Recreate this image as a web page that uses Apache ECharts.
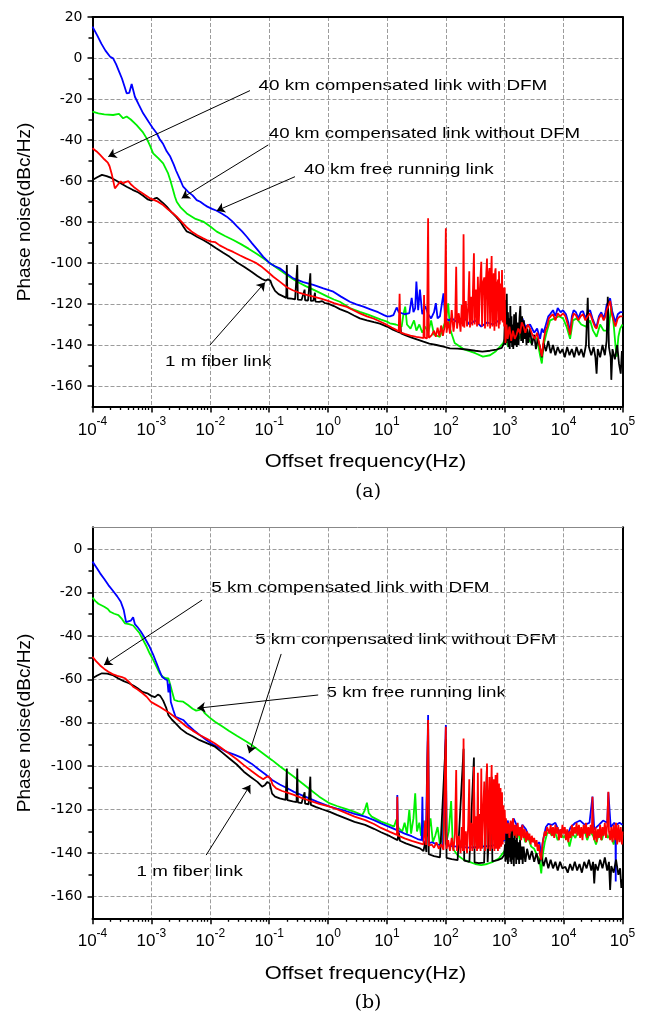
<!DOCTYPE html>
<html>
<head>
<meta charset="utf-8">
<script src="https://cdn.jsdelivr.net/npm/echarts@6/dist/echarts.min.js"></script>
<style>html,body{margin:0;padding:0;background:#fff}#c{width:649px;height:1016px}</style>
</head>
<body>
<div id="c"></div>
<script>
// x values are log10(offset frequency / Hz); y values are phase noise in dBc/Hz
const xDecades = [-4, -3, -2, -1, 0, 1, 2, 3, 4, 5];
const xMinorMultipliers = [2, 3, 4, 5, 6, 7, 8, 9];
const yTicksA = [-160, -140, -120, -100, -80, -60, -40, -20, 0, 20];
const yMinorA = [-150, -130, -110, -90, -70, -50, -30, -10, 10];
const yTicksB = [-160, -140, -120, -100, -80, -60, -40, -20, 0];
const yMinorB = [-150, -130, -110, -90, -70, -50, -30, -10];

const seriesNamesA = ['40 km compensated link with DFM', '40 km compensated link without DFM', '40 km free running link', '1 m fiber link'];
const seriesNamesB = ['5 km compensated link with DFM', '5 km compensated link without DFM', '5 km free running link', '1 m fiber link'];

// ---------- panel (a) ----------
const aBlack = [[-4.00,-59.5],[-3.92,-58.2],[-3.84,-57.0],[-3.76,-57.6],[-3.68,-58.5],[-3.60,-59.8],[-3.50,-61.5],[-3.42,-62.8],[-3.32,-64.3],[-3.22,-65.6],[-3.14,-67.2],[-3.06,-69.0],[-3.00,-69.6],[-2.95,-68.6],[-2.91,-68.2],[-2.86,-69.3],[-2.80,-70.8],[-2.74,-72.5],[-2.66,-75.2],[-2.58,-77.5],[-2.51,-79.8],[-2.45,-82.6],[-2.40,-84.6],[-2.32,-85.6],[-2.22,-87.3],[-2.12,-88.8],[-2.02,-90.5],[-1.90,-92.8],[-1.78,-95.0],[-1.67,-97.0],[-1.55,-99.6],[-1.42,-102.0],[-1.30,-104.3],[-1.20,-106.3],[-1.12,-107.8],[-1.06,-108.6],[-1.02,-108.0],[-0.98,-108.6],[-0.95,-111.0],[-0.90,-113.6],[-0.84,-115.2],[-0.76,-116.3],[-0.71,-117.0],[-0.700,-101],[-0.690,-117.2],[-0.62,-117.4],[-0.56,-117.8],[-0.523,-101],[-0.513,-117.9],[-0.45,-118.0],[-0.398,-113],[-0.39,-118.2],[-0.34,-118.3],[-0.301,-105],[-0.292,-118.5],[-0.25,-118.4],[-0.222,-114.5],[-0.214,-118.8],[-0.15,-119.0],[-0.10,-118.6],[-0.05,-119.6],[0.00,-119.8],[0.10,-121.0],[0.20,-122.5],[0.32,-123.8],[0.44,-125.6],[0.54,-127.0],[0.66,-128.0],[0.78,-128.9],[0.88,-129.6],[1.00,-131.0],[1.10,-132.5],[1.22,-134.0],[1.23,-131],[1.24,-134.3],[1.32,-135.3],[1.42,-136.4],[1.52,-137.4],[1.62,-138.4],[1.72,-139.3],[1.84,-140.0],[1.96,-140.8],[2.07,-141.6],[2.20,-141.8],[2.35,-142.2],[2.50,-142.8],[2.62,-143.2],[2.75,-142.8],[2.86,-142.2],[2.95,-141.4],[2.99,-139],[3.005,-126],[3.012,-140],[3.02,-118],[3.028,-139],[3.035,-115],[3.045,-138],[3.055,-124],[3.065,-141],[3.075,-127],[3.085,-142],[3.095,-121],[3.105,-139],[3.115,-126],[3.125,-141],[3.135,-130],[3.145,-142],[3.16,-125],[3.175,-140],[3.19,-124],[3.205,-141],[3.22,-129],[3.235,-140],[3.25,-127],[3.265,-121],[3.28,-138],[3.295,-126],[3.31,-139],[3.325,-128],[3.34,-137],[3.355,-131],[3.37,-140],[3.385,-132],[3.40,-139],[3.43,-132],[3.46,-140],[3.50,-135],[3.53,-142],[3.56,-137],[3.60,-141],[3.63,-146],[3.66,-139],[3.70,-143],[3.74,-138],[3.78,-144],[3.82,-140],[3.86,-145],[3.90,-141],[3.94,-144],[3.98,-142],[4.02,-146],[4.06,-141],[4.10,-145],[4.14,-142],[4.18,-146],[4.22,-141],[4.26,-145],[4.30,-142],[4.34,-146],[4.38,-140],[4.41,-117],[4.43,-141],[4.47,-145],[4.51,-141],[4.54,-146],[4.56,-154],[4.58,-142],[4.62,-146],[4.66,-140],[4.70,-145],[4.73,-138],[4.75,-116.5],[4.77,-141],[4.80,-146],[4.81,-157],[4.83,-142],[4.87,-147],[4.91,-140],[4.94,-149],[4.97,-154],[4.99,-143],[5.00,-146]];

const aRed = [[-4.00,-44.0],[-3.93,-45.6],[-3.87,-47.3],[-3.80,-49.4],[-3.74,-51.0],[-3.71,-52.8],[-3.67,-57.0],[-3.62,-63.6],[-3.57,-61.8],[-3.52,-60.2],[-3.48,-61.2],[-3.43,-60.4],[-3.39,-60.1],[-3.35,-61.6],[-3.30,-62.9],[-3.24,-64.2],[-3.19,-65.3],[-3.10,-67.0],[-3.02,-68.5],[-2.96,-69.2],[-2.91,-69.8],[-2.85,-70.8],[-2.80,-71.7],[-2.72,-73.8],[-2.64,-75.6],[-2.57,-77.4],[-2.49,-79.8],[-2.41,-82.3],[-2.32,-84.6],[-2.22,-86.5],[-2.12,-88.0],[-2.06,-88.8],[-1.98,-89.6],[-1.92,-89.8],[-1.84,-91.4],[-1.72,-93.2],[-1.61,-94.6],[-1.50,-96.2],[-1.40,-97.6],[-1.30,-98.9],[-1.21,-100.2],[-1.12,-102.0],[-1.02,-104.4],[-0.93,-106.7],[-0.82,-109.1],[-0.70,-111.8],[-0.60,-113.3],[-0.50,-114.4],[-0.38,-115.4],[-0.25,-116.4],[-0.12,-117.4],[0.00,-118.5],[0.10,-119.6],[0.20,-120.4],[0.32,-121.4],[0.44,-123.2],[0.54,-124.6],[0.66,-126.0],[0.78,-127.2],[0.90,-128.8],[1.00,-130.2],[1.08,-131.5],[1.15,-132.5],[1.20,-133.4],[1.215,-115],[1.23,-133.8],[1.30,-134.6],[1.40,-135.4],[1.50,-136.0],[1.58,-136.4],[1.62,-136.6],[1.63,-115.6],[1.64,-136.4],[1.68,-136.8],[1.699,-78.2],[1.712,-136.5],[1.76,-135.2],[1.80,-133.0],[1.83,-136.0],[1.86,-131.5],[1.89,-135.8],[1.92,-130.5],[1.95,-135.5],[1.98,-131.0],[2.000,-83.0],[2.012,-134.0],[2.04,-128.5],[2.07,-134.5],[2.10,-123.0],[2.13,-133.5],[2.16,-126.0],[2.176,-101.8],[2.19,-132.0],[2.22,-124.5],[2.25,-133.5],[2.27,-120.5],[2.29,-131.0],[2.301,-86.0],[2.313,-131.5],[2.34,-118.5],[2.36,-131.0],[2.38,-121.5],[2.398,-104.0],[2.41,-131.5],[2.43,-116.5],[2.45,-130.5],[2.46,-114.0],[2.477,-95.3],[2.49,-130.0],[2.51,-113.0],[2.53,-131.0],[2.544,-106.7],[2.56,-130.0],[2.58,-111.5],[2.602,-99.4],[2.615,-131.0],[2.63,-110.0],[2.653,-107.0],[2.665,-132.0],[2.68,-109.0],[2.699,-97.8],[2.71,-131.0],[2.725,-106.0],[2.740,-102.5],[2.752,-132.0],[2.765,-108.0],[2.778,-96.6],[2.79,-131.0],[2.813,-105.0],[2.825,-133.0],[2.838,-104.0],[2.845,-102.6],[2.86,-131.0],[2.875,-110.0],[2.890,-108.0],[2.90,-132.0],[2.903,-104.0],[2.915,-130.0],[2.929,-110.0],[2.94,-128.0],[2.954,-103.4],[2.965,-129.0],[2.978,-112.0],[2.99,-131.0],[3.000,-112.0],[3.012,-139.0],[3.03,-130],[3.05,-137],[3.08,-131],[3.11,-138],[3.14,-133],[3.17,-137],[3.20,-135],[3.23,-132],[3.26,-134.3],[3.29,-129],[3.32,-131],[3.35,-134],[3.39,-130],[3.43,-132],[3.47,-135],[3.51,-137],[3.55,-134],[3.59,-140],[3.63,-145.5],[3.66,-138],[3.69,-133],[3.72,-131],[3.75,-127],[3.78,-126],[3.82,-125],[3.86,-128],[3.90,-124.5],[3.94,-126],[3.99,-124.6],[4.03,-126],[4.07,-130],[4.11,-135],[4.14,-128],[4.17,-124.6],[4.21,-125.5],[4.25,-128],[4.29,-126],[4.33,-125],[4.37,-128],[4.41,-126],[4.45,-124.6],[4.49,-128],[4.53,-131],[4.56,-132],[4.60,-127],[4.64,-125],[4.68,-128],[4.71,-126],[4.73,-123],[4.76,-121],[4.79,-118.5],[4.82,-125],[4.85,-128],[4.88,-131],[4.92,-127],[4.96,-126],[5.00,-126]];

const aBlue = [[-4.00,15.3],[-3.92,11.0],[-3.85,7.0],[-3.78,3.6],[-3.70,0.6],[-3.65,-0.2],[-3.60,-3.0],[-3.55,-6.5],[-3.50,-10.0],[-3.46,-13.5],[-3.42,-17.2],[-3.375,-17.0],[-3.335,-12.7],[-3.28,-18.9],[-3.21,-23.0],[-3.14,-27.0],[-3.05,-31.0],[-2.98,-34.0],[-2.91,-36.7],[-2.86,-39.5],[-2.80,-42.0],[-2.74,-45.5],[-2.68,-48.1],[-2.62,-52.0],[-2.58,-55.0],[-2.51,-59.5],[-2.46,-62.8],[-2.38,-65.2],[-2.30,-67.0],[-2.23,-69.3],[-2.17,-70.1],[-2.10,-71.6],[-2.05,-72.5],[-1.97,-73.6],[-1.89,-74.5],[-1.80,-76.0],[-1.72,-77.4],[-1.63,-79.6],[-1.55,-82.0],[-1.46,-84.6],[-1.38,-87.2],[-1.29,-90.4],[-1.20,-93.5],[-1.10,-97.0],[-0.99,-100.1],[-0.90,-101.6],[-0.82,-102.6],[-0.70,-105.2],[-0.59,-107.5],[-0.42,-109.3],[-0.25,-110.7],[-0.08,-112.4],[0.09,-114.0],[0.22,-116.4],[0.37,-118.9],[0.48,-120.2],[0.60,-121.3],[0.72,-122.6],[0.85,-124.0],[0.95,-125.4],[1.00,-126.0],[1.05,-126.0],[1.11,-125.4],[1.165,-121.7],[1.20,-124.0],[1.30,-125.0],[1.38,-124.5],[1.42,-117.0],[1.45,-124.0],[1.48,-122.0],[1.50,-109.0],[1.53,-123.0],[1.56,-113.0],[1.60,-125.0],[1.65,-121.0],[1.70,-125.0],[1.75,-127.0],[1.80,-124.0],[1.83,-119.6],[1.86,-127.0],[1.90,-126.0],[1.96,-114.8],[1.99,-127.0],[2.05,-128.0],[2.10,-127.0],[2.20,-129.0],[2.30,-126.0],[2.40,-130.0],[2.50,-128.0],[2.60,-131.0],[2.70,-129.0],[2.80,-130.0],[2.90,-128.0],[2.97,-127.0],[3.00,-128],[3.05,-133],[3.10,-130],[3.15,-135],[3.20,-133],[3.26,-132],[3.30,-127],[3.35,-131],[3.43,-130],[3.50,-134],[3.55,-132],[3.60,-137],[3.63,-132],[3.66,-134],[3.70,-130],[3.74,-126],[3.77,-125],[3.82,-123],[3.86,-126],[3.90,-122],[3.95,-124],[3.99,-123],[4.04,-125],[4.08,-129],[4.11,-134],[4.14,-126],[4.17,-123],[4.21,-124],[4.25,-127],[4.29,-124],[4.33,-123.5],[4.37,-127],[4.41,-124],[4.45,-123],[4.49,-127],[4.53,-130],[4.56,-131],[4.60,-126],[4.64,-124],[4.68,-127],[4.71,-124],[4.73,-120.5],[4.76,-119],[4.79,-117.2],[4.82,-123],[4.85,-126],[4.88,-129],[4.92,-125],[4.96,-124],[5.00,-124]];

const aGreen = [[-4.00,-26.2],[-3.90,-27.0],[-3.80,-27.5],[-3.65,-27.8],[-3.55,-27.3],[-3.53,-26.7],[-3.48,-29.4],[-3.42,-28.5],[-3.35,-30.0],[-3.25,-32.7],[-3.15,-36.0],[-3.08,-39.2],[-3.02,-43.0],[-2.97,-46.5],[-2.88,-49.0],[-2.80,-51.4],[-2.72,-56.0],[-2.68,-59.5],[-2.64,-63.5],[-2.60,-67.7],[-2.57,-70.1],[-2.50,-73.0],[-2.40,-75.8],[-2.25,-78.5],[-2.12,-79.8],[-2.00,-82.2],[-1.89,-84.7],[-1.75,-86.8],[-1.61,-88.8],[-1.48,-90.8],[-1.35,-93.0],[-1.22,-95.4],[-1.10,-97.7],[-0.96,-100.6],[-0.82,-103.4],[-0.70,-105.9],[-0.60,-107.8],[-0.50,-109.5],[-0.38,-111.3],[-0.25,-113.0],[-0.12,-114.8],[0.00,-116.5],[0.10,-117.8],[0.20,-118.9],[0.37,-122.0],[0.54,-123.8],[0.68,-125.2],[0.80,-126.5],[0.90,-127.6],[1.00,-128.6],[1.05,-129.4],[1.15,-130.0],[1.25,-131.0],[1.28,-125.0],[1.31,-121.3],[1.34,-130.0],[1.40,-132.0],[1.46,-128.0],[1.50,-133.0],[1.55,-130.0],[1.60,-134.0],[1.65,-131.0],[1.70,-134.0],[1.75,-128.0],[1.80,-135.0],[1.90,-136.0],[1.96,-131.0],[2.00,-128.0],[2.04,-119.7],[2.07,-132.0],[2.15,-139.0],[2.30,-142.0],[2.50,-144.0],[2.63,-145.7],[2.75,-145.0],[2.85,-143.0],[2.97,-139.2],[3.02,-136.0],[3.06,-141.0],[3.10,-136.0],[3.15,-138.0],[3.20,-134.0],[3.25,-137.0],[3.30,-133.0],[3.35,-135.0],[3.40,-137.0],[3.45,-139.0],[3.50,-136.0],[3.55,-137.0],[3.60,-145.0],[3.63,-149.0],[3.66,-140.0],[3.71,-134.0],[3.77,-128.0],[3.85,-127.0],[3.92,-126.0],[3.99,-127.0],[4.05,-131.0],[4.11,-137.0],[4.16,-128.0],[4.22,-127.0],[4.30,-130.0],[4.38,-131.0],[4.45,-128.0],[4.50,-133.0],[4.56,-136.0],[4.62,-130.0],[4.68,-133.0],[4.76,-133.0],[4.81,-121.0],[4.85,-130.0],[4.88,-140.0],[4.90,-145.7],[4.93,-136.0],[4.96,-132.0],[5.00,-130.0]];

// ---------- panel (b) ----------
const bBlack = [[-4.00,-59.5],[-3.92,-58.2],[-3.84,-57.2],[-3.75,-57.4],[-3.66,-58.0],[-3.56,-59.6],[-3.47,-60.8],[-3.38,-61.8],[-3.30,-63.0],[-3.24,-64.0],[-3.15,-65.8],[-3.07,-66.4],[-3.00,-67.6],[-2.94,-68.2],[-2.89,-67.0],[-2.85,-67.6],[-2.80,-69.8],[-2.75,-73.0],[-2.71,-76.5],[-2.65,-78.6],[-2.58,-80.5],[-2.50,-82.8],[-2.40,-84.8],[-2.30,-86.2],[-2.18,-88.0],[-2.05,-89.5],[-1.92,-91.0],[-1.80,-93.6],[-1.68,-96.3],[-1.55,-99.2],[-1.43,-102.5],[-1.32,-104.8],[-1.20,-107.2],[-1.12,-109.4],[-1.07,-108.6],[-1.03,-107.2],[-0.99,-108.0],[-0.95,-112.6],[-0.90,-114.0],[-0.82,-114.8],[-0.72,-115.5],[-0.700,-101],[-0.690,-115.6],[-0.60,-116.2],[-0.535,-116.5],[-0.523,-101],[-0.512,-116.6],[-0.45,-117.0],[-0.398,-112],[-0.39,-117.2],[-0.33,-117.5],[-0.301,-104.8],[-0.292,-117.8],[-0.20,-118.8],[-0.10,-119.8],[0.03,-121.0],[0.15,-122.4],[0.30,-124.0],[0.45,-125.6],[0.63,-127.0],[0.78,-128.8],[0.90,-130.4],[1.05,-132.2],[1.18,-134.0],[1.20,-130.5],[1.22,-134.3],[1.32,-135.5],[1.45,-136.8],[1.56,-137.8],[1.62,-139.0],[1.65,-135],[1.67,-139.5],[1.699,-80],[1.71,-140.5],[1.80,-141.4],[1.90,-142.0],[2.000,-87.6],[2.012,-142.2],[2.10,-142.8],[2.20,-143.2],[2.301,-92],[2.312,-143.5],[2.40,-144],[2.477,-96],[2.488,-144.2],[2.56,-144.6],[2.65,-144.4],[2.699,-100],[2.71,-144.2],[2.778,-104.8],[2.79,-143.8],[2.88,-143.2],[2.95,-142.4],[2.99,-141],[3.005,-136],[3.015,-144],[3.025,-131],[3.035,-143],[3.045,-128],[3.055,-145],[3.065,-130],[3.075,-142],[3.085,-127],[3.095,-144],[3.105,-131],[3.115,-145],[3.125,-129],[3.135,-143],[3.145,-133],[3.155,-146],[3.165,-131],[3.175,-142],[3.185,-134],[3.195,-145],[3.205,-130],[3.215,-143],[3.23,-135],[3.245,-145],[3.26,-134],[3.275,-143],[3.29,-137],[3.305,-145],[3.32,-137],[3.35,-144],[3.38,-138],[3.42,-143],[3.46,-139],[3.50,-144],[3.54,-140],[3.58,-145],[3.62,-141],[3.66,-146],[3.70,-142],[3.74,-147],[3.78,-143],[3.82,-147],[3.86,-144],[3.90,-148],[3.94,-144],[3.98,-147],[4.03,-146.3],[4.07,-149],[4.11,-145],[4.15,-148],[4.19,-144],[4.23,-148],[4.27,-145],[4.31,-149],[4.35,-144],[4.39,-147],[4.43,-143],[4.47,-148],[4.50,-144],[4.52,-154],[4.54,-145],[4.58,-148],[4.62,-143],[4.66,-147],[4.70,-142],[4.74,-148],[4.77,-144],[4.79,-157],[4.81,-146],[4.85,-149],[4.89,-143],[4.93,-150],[4.96,-147],[4.98,-156],[5.00,-152]];

const bRed = [[-4.00,-49.6],[-3.94,-51.6],[-3.87,-53.6],[-3.80,-55.2],[-3.73,-56.5],[-3.66,-57.6],[-3.58,-58.4],[-3.50,-59.0],[-3.45,-59.5],[-3.38,-61.2],[-3.31,-63.4],[-3.24,-64.6],[-3.15,-66.4],[-3.08,-68.0],[-3.01,-70.3],[-2.94,-71.4],[-2.86,-72.6],[-2.78,-74.0],[-2.70,-75.4],[-2.62,-77.0],[-2.52,-79.2],[-2.40,-81.8],[-2.30,-83.6],[-2.18,-85.6],[-2.05,-87.5],[-1.92,-89.5],[-1.80,-91.8],[-1.68,-94.2],[-1.55,-96.8],[-1.43,-99.5],[-1.30,-102.2],[-1.18,-104.6],[-1.10,-106.0],[-1.06,-105.2],[-1.02,-104.6],[-0.98,-105.6],[-0.94,-108.6],[-0.88,-110.2],[-0.78,-111.4],[-0.68,-112.3],[-0.58,-113.2],[-0.45,-114.6],[-0.30,-116.0],[-0.15,-117.3],[0.03,-118.6],[0.15,-119.8],[0.30,-121.5],[0.45,-123.2],[0.63,-124.8],[0.78,-126.6],[0.90,-128.4],[1.05,-130.2],[1.17,-131.6],[1.176,-114],[1.186,-131.8],[1.30,-133.2],[1.42,-134.4],[1.56,-135.5],[1.62,-136.0],[1.65,-125],[1.665,-136.2],[1.699,-78.7],[1.712,-136.6],[1.76,-136],[1.80,-137.5],[1.84,-135],[1.88,-138],[1.92,-136],[1.96,-138.5],[2.000,-81.8],[2.012,-138],[2.04,-134],[2.07,-139],[2.10,-133],[2.13,-139],[2.155,-131],[2.176,-101.7],[2.19,-139],[2.22,-132],[2.25,-140],[2.27,-128],[2.29,-139],[2.301,-87.2],[2.313,-139],[2.34,-130],[2.36,-140],[2.38,-127],[2.398,-106],[2.41,-139],[2.43,-126],[2.45,-139],[2.465,-124],[2.477,-100.2],[2.49,-138],[2.51,-123],[2.53,-139],[2.544,-103],[2.555,-138],[2.575,-122],[2.59,-139],[2.602,-101],[2.615,-138],[2.635,-120],[2.653,-107],[2.665,-139],[2.68,-121],[2.699,-98.7],[2.71,-138],[2.725,-119],[2.740,-105],[2.752,-139],[2.765,-118],[2.778,-99.4],[2.79,-138],[2.80,-120],[2.813,-106],[2.825,-139],[2.835,-117],[2.845,-104],[2.855,-138],[2.865,-118],[2.875,-103],[2.885,-139],[2.895,-119],[2.903,-108],[2.912,-138],[2.92,-120],[2.929,-110],[2.94,-137],[2.954,-112],[2.965,-136],[2.978,-118],[2.99,-134],[3.000,-120],[3.012,-131],[3.02,-124],[3.04,-131],[3.06,-126],[3.08,-133],[3.10,-125],[3.12,-130],[3.14,-124],[3.16,-132],[3.18,-127],[3.20,-133],[3.22,-126],[3.24,-132],[3.26,-128],[3.28,-134],[3.30,-127],[3.32,-133],[3.34,-129],[3.36,-135],[3.38,-130],[3.40,-134],[3.42,-131],[3.44,-136],[3.46,-132],[3.48,-135],[3.50,-133],[3.52,-137],[3.54,-134],[3.56,-139],[3.58,-136],[3.60,-141],[3.62,-143],[3.64,-136],[3.66,-133],[3.68,-130],[3.70,-132],[3.72,-128],[3.74,-127.5],[3.76,-131],[3.78,-127],[3.80,-132],[3.82,-128],[3.84,-133],[3.86,-127],[3.88,-131],[3.90,-128],[3.92,-134],[3.94,-129],[3.96,-133],[3.98,-127],[4.00,-131],[4.02,-128],[4.04,-134],[4.06,-129],[4.08,-135],[4.10,-130],[4.12,-133],[4.14,-127],[4.16,-132],[4.18,-128],[4.20,-131],[4.22,-126],[4.24,-132],[4.26,-127],[4.28,-133],[4.30,-128],[4.32,-134],[4.34,-127],[4.36,-131],[4.38,-126],[4.40,-133],[4.42,-128],[4.44,-132],[4.46,-127],[4.48,-131],[4.49,-114],[4.50,-129],[4.52,-134],[4.54,-128],[4.56,-135],[4.58,-129],[4.60,-133],[4.62,-127],[4.64,-134],[4.66,-128],[4.68,-132],[4.70,-126],[4.72,-133],[4.74,-127],[4.76,-111.7],[4.77,-130],[4.79,-134],[4.81,-128],[4.83,-135],[4.85,-127],[4.87,-134],[4.89,-126],[4.91,-136],[4.93,-127],[4.95,-135],[4.97,-128],[4.99,-136],[5.00,-130]];

const bBlue = [[-4.00,-5.8],[-3.93,-8.6],[-3.87,-11.2],[-3.80,-13.8],[-3.73,-16.6],[-3.66,-19.0],[-3.58,-21.8],[-3.52,-24.3],[-3.47,-28.0],[-3.43,-33.6],[-3.40,-34.4],[-3.35,-33.0],[-3.31,-31.4],[-3.28,-34.6],[-3.24,-35.8],[-3.18,-38.0],[-3.12,-40.6],[-3.03,-45.0],[-2.97,-48.6],[-2.92,-52.0],[-2.87,-55.5],[-2.82,-58.8],[-2.77,-59.8],[-2.73,-60.4],[-2.71,-66.0],[-2.69,-62.0],[-2.67,-70.4],[-2.63,-74.0],[-2.59,-77.2],[-2.52,-78.0],[-2.46,-78.7],[-2.38,-81.0],[-2.28,-83.4],[-2.16,-86.0],[-2.06,-88.0],[-1.98,-89.5],[-1.86,-91.4],[-1.72,-93.4],[-1.58,-94.8],[-1.44,-96.4],[-1.30,-98.8],[-1.18,-101.4],[-1.06,-103.8],[-0.95,-106.3],[-0.82,-108.4],[-0.70,-110.0],[-0.58,-111.8],[-0.46,-113.2],[-0.32,-114.8],[-0.18,-116.4],[0.03,-118.6],[0.15,-119.5],[0.30,-120.6],[0.45,-121.9],[0.63,-123.2],[0.78,-124.8],[0.90,-126.3],[1.05,-128.0],[1.17,-129.4],[1.176,-113.2],[1.186,-129.6],[1.30,-131.0],[1.42,-132.2],[1.52,-133.5],[1.59,-134.0],[1.602,-114],[1.614,-134.4],[1.66,-135.0],[1.699,-76.4],[1.712,-135.5],[1.76,-135.0],[1.85,-136.0],[1.95,-136.5],[2.000,-81.0],[2.012,-136.5],[2.20,-137.0],[2.40,-137.5],[2.60,-137.0],[2.80,-136.5],[3.00,-134.0],[3.05,-125],[3.10,-130],[3.15,-124],[3.20,-127],[3.25,-131],[3.30,-127],[3.36,-129],[3.42,-133],[3.48,-134],[3.54,-136],[3.59,-135],[3.62,-141],[3.65,-134],[3.70,-128],[3.74,-126.5],[3.80,-127],[3.86,-126],[3.92,-130],[4.00,-129],[4.06,-132],[4.12,-128],[4.20,-126],[4.28,-125],[4.36,-127],[4.44,-126],[4.49,-114],[4.52,-129],[4.60,-127],[4.67,-125],[4.74,-126],[4.76,-112],[4.80,-128],[4.86,-126],[4.88,-127],[4.885,-153],[4.89,-127],[4.95,-126],[5.00,-127]];

const bGreen = [[-4.00,-22.4],[-3.95,-24.0],[-3.90,-25.2],[-3.80,-26.6],[-3.74,-27.6],[-3.70,-28.9],[-3.63,-29.8],[-3.56,-30.4],[-3.50,-32.2],[-3.45,-34.2],[-3.38,-34.6],[-3.31,-35.2],[-3.26,-36.8],[-3.20,-38.8],[-3.14,-41.9],[-3.08,-45.0],[-3.03,-48.0],[-2.98,-50.5],[-2.92,-53.8],[-2.86,-57.2],[-2.80,-59.0],[-2.75,-59.5],[-2.71,-59.6],[-2.68,-62.5],[-2.64,-66.5],[-2.61,-69.5],[-2.55,-70.0],[-2.46,-70.3],[-2.38,-71.8],[-2.30,-73.5],[-2.24,-74.4],[-2.18,-74.0],[-2.14,-73.6],[-2.10,-75.4],[-2.02,-77.4],[-1.92,-79.5],[-1.80,-81.6],[-1.68,-83.8],[-1.55,-86.0],[-1.43,-87.9],[-1.32,-89.8],[-1.20,-92.2],[-1.07,-94.8],[-0.95,-97.2],[-0.82,-100.0],[-0.70,-102.4],[-0.58,-104.8],[-0.45,-107.6],[-0.30,-110.8],[-0.15,-114.0],[0.03,-117.1],[0.15,-118.3],[0.30,-119.6],[0.45,-121.0],[0.58,-122.5],[0.62,-120.5],[0.66,-116.8],[0.69,-121.5],[0.74,-123.2],[0.90,-125.5],[1.05,-127.0],[1.12,-127.8],[1.16,-124.5],[1.20,-128.5],[1.26,-130.0],[1.30,-126.0],[1.34,-131.0],[1.38,-120.0],[1.41,-131.0],[1.45,-124.0],[1.48,-112.5],[1.51,-130.0],[1.55,-126.0],[1.58,-132.0],[1.62,-125.0],[1.66,-133.0],[1.70,-131.0],[1.74,-124.0],[1.78,-135.0],[1.82,-132.0],[1.86,-128.0],[1.90,-136.0],[1.94,-133.0],[1.97,-117.0],[2.00,-136.0],[2.05,-130.0],[2.09,-116.0],[2.12,-138.0],[2.20,-141.0],[2.30,-143.0],[2.40,-144.0],[2.50,-145.0],[2.60,-145.5],[2.70,-145.0],[2.80,-144.0],[2.90,-142.5],[2.97,-140.0],[3.02,-138.0],[3.06,-130],[3.10,-134],[3.14,-128],[3.18,-133],[3.22,-130],[3.26,-134],[3.30,-130],[3.35,-135],[3.40,-133],[3.45,-137],[3.50,-138],[3.55,-141],[3.59,-143],[3.62,-149.3],[3.65,-140],[3.68,-135],[3.72,-131],[3.76,-130],[3.80,-132],[3.85,-130],[3.90,-134],[3.95,-131],[4.00,-133],[4.05,-131],[4.10,-137],[4.15,-131],[4.20,-133],[4.25,-129],[4.30,-131],[4.35,-129],[4.40,-134],[4.45,-130],[4.50,-132],[4.55,-136],[4.60,-131],[4.65,-134],[4.70,-129],[4.75,-133],[4.80,-131],[4.85,-136],[4.90,-130],[4.95,-134],[5.00,-131]];

// annotation arrows (tail, head) in data coordinates [log10 f, dBc/Hz]
const arrowsA = [[[-1.326,-15.9],[-3.732,-48.1]], [[-1.015,-42.4],[-2.486,-68.4]], [[-0.562,-57.9],[-1.891,-74.5]], [[-2.005,-140.0],[-1.071,-109.5]]];
const arrowsB = [[[-2.139,-23.5],[-3.805,-53.4]], [[-0.796,-48.3],[-1.340,-94.0]], [[-0.168,-67.2],[-2.220,-73.3]], [[-2.070,-140.9],[-1.320,-108.6]]];

// ---------- chart ----------
const xMinor = [];
xDecades.slice(0, -1).forEach(d => xMinorMultipliers.forEach(m => xMinor.push(d + Math.log10(m))));

const GRID = '#9c9c9c';
const ylabelFont = 'DejaVu Sans';
const sansFont = 'Liberation Sans';
const LW = 1.8;

function xAxes(gi, topColor, topWidth) {
  return [
    { type: 'value', gridIndex: gi, min: -4, max: 5, interval: 1, position: 'bottom',
      axisLine: { onZero: false, lineStyle: { color: '#000', width: 2 } },
      axisTick: { length: 6, lineStyle: { color: '#000', width: 1.5 } },
      axisLabel: { margin: 9, color: '#000',
        formatter: v => '{b|10}{s|' + Math.round(v) + '}',
        rich: { b: { fontSize: 17, fontFamily: sansFont, color: '#000', verticalAlign: 'bottom', padding: [6, 0, 0, 0] },
                s: { fontSize: 12, fontFamily: sansFont, color: '#000', verticalAlign: 'top' } } },
      splitLine: { show: true, lineStyle: { color: GRID, width: 1, type: [4, 2] } } },
    { type: 'value', gridIndex: gi, min: -4, max: 5, interval: 1, position: 'bottom',
      axisLine: { show: false, onZero: false },
      axisTick: { show: true, length: 3.5, customValues: xMinor, lineStyle: { color: '#000', width: 1.3 } },
      axisLabel: { show: false }, splitLine: { show: false } },
    { type: 'value', gridIndex: gi, min: -4, max: 5, interval: 1, position: 'top',
      axisLine: { onZero: false, lineStyle: { color: topColor, width: topWidth } },
      axisTick: { show: false }, axisLabel: { show: false }, splitLine: { show: false } }
  ];
}
function yAxes(gi, yMax, ticks, minor) {
  return [
    { type: 'value', gridIndex: gi, min: -170, max: yMax, interval: 10, position: 'left',
      axisLine: { onZero: false, lineStyle: { color: '#000', width: 2 } },
      axisTick: { length: 5, customValues: ticks, lineStyle: { color: '#000', width: 1.5 } },
      axisLabel: { customValues: ticks, margin: 10, color: '#000', fontSize: 14, fontFamily: ylabelFont },
      splitLine: { show: true, lineStyle: { color: GRID, width: 1, type: [4, 2] } } },
    { type: 'value', gridIndex: gi, min: -170, max: yMax, interval: 10, position: 'left',
      axisLine: { show: false, onZero: false },
      axisTick: { length: 4, customValues: minor, lineStyle: { color: '#000', width: 1.5 } },
      axisLabel: { show: false }, splitLine: { show: false } },
    { type: 'value', gridIndex: gi, min: -170, max: yMax, interval: 10, position: 'right',
      axisLine: { onZero: false, lineStyle: { color: '#000', width: 2 } },
      axisTick: { show: false }, axisLabel: { show: false }, splitLine: { show: false } }
  ];
}
function line(name, data, color, xi, yi, z, arrows) {
  const s = { type: 'line', name, data, xAxisIndex: xi, yAxisIndex: yi, showSymbol: false, symbol: 'none',
    lineStyle: { color, width: LW }, itemStyle: { color }, animation: false, silent: true, z, clip: true,
    emphasis: { disabled: true } };
  if (arrows) {
    s.markLine = { silent: true, animation: false, symbol: ['none', 'arrow'], symbolSize: 8,
      label: { show: false }, lineStyle: { color: '#000', width: 1, type: 'solid' }, emphasis: { disabled: true },
      data: arrows.map(a => [{ coord: a[0] }, { coord: a[1] }]) };
  }
  return s;
}

function txt(text, x, y, font, sx, align) {
  return { type: 'text', x, y, scaleX: sx || 1, silent: true,
    style: { text, font, fill: '#000', textAlign: align || 'left', textVerticalAlign: 'middle', align: align || 'left', verticalAlign: 'middle' } };
}

const annFont = '15px "Liberation Sans"';
const option = {
  backgroundColor: '#fff',
  animation: false,
  grid: [
    { left: 92.5, top: 17, width: 530, height: 389.5, containLabel: false },
    { left: 92.5, top: 527.3, width: 530, height: 391, containLabel: false }
  ],
  xAxis: [...xAxes(0, '#000', 2), ...xAxes(1, '#888', 1)],
  yAxis: [...yAxes(0, 20, yTicksA, yMinorA), ...yAxes(1, 10, yTicksB, yMinorB)],
  series: [
    line(seriesNamesA[1], aGreen, '#00f000', 0, 0, 2),
    line(seriesNamesA[2], aBlue, '#0000ff', 0, 0, 3),
    line(seriesNamesA[3], aBlack, '#000000', 0, 0, 4, arrowsA),
    line(seriesNamesA[0], aRed, '#ff0000', 0, 0, 5),
    line(seriesNamesB[1], bGreen, '#00f000', 3, 3, 2),
    line(seriesNamesB[2], bBlue, '#0000ff', 3, 3, 3),
    line(seriesNamesB[3], bBlack, '#000000', 3, 3, 4, arrowsB),
    line(seriesNamesB[0], bRed, '#ff0000', 3, 3, 5)
  ],
  graphic: [
    txt(seriesNamesA[0], 258.5, 86, annFont, 1.26),
    txt(seriesNamesA[1], 268.8, 134, annFont, 1.245),
    txt(seriesNamesA[2], 304, 170, annFont, 1.25),
    txt(seriesNamesA[3], 165, 361.7, annFont, 1.25),
    txt(seriesNamesB[0], 211.2, 588.3, annFont, 1.26),
    txt(seriesNamesB[1], 255.3, 640, annFont, 1.245),
    txt(seriesNamesB[2], 326.5, 692.7, annFont, 1.25),
    txt(seriesNamesB[3], 136.5, 871.7, annFont, 1.25),
    txt('Offset frequency(Hz)', 365.5, 462, '17.5px "Liberation Sans"', 1.25, 'center'),
    txt('Offset frequency(Hz)', 365.5, 974, '17.5px "Liberation Sans"', 1.25, 'center'),
    txt('(a)', 368, 492, '19px "DejaVu Serif"', 1, 'center'),
    txt('(b)', 368, 1003, '19px "DejaVu Serif"', 1, 'center'),
    Object.assign(txt('Phase noise(dBc/Hz)', 25, 212, '19px "Liberation Sans"', 1, 'center'), { rotation: Math.PI / 2 }),
    Object.assign(txt('Phase noise(dBc/Hz)', 25, 723, '19px "Liberation Sans"', 1, 'center'), { rotation: Math.PI / 2 })
  ]
};

const chart = echarts.init(document.getElementById('c'), null, { renderer: 'canvas', width: 649, height: 1016 });
chart.setOption(option);
</script>
</body>
</html>
